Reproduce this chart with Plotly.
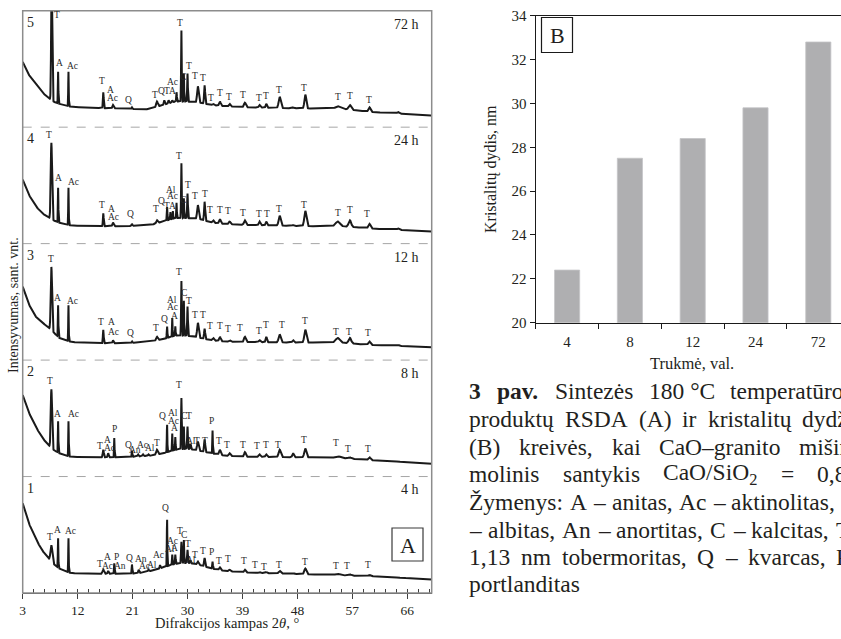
import numpy as np
import plotly.graph_objects as go

W, H = 841, 639
FONT = "Liberation Serif"
INK = "#231f20"

# ---------------- Panel A: XRD patterns ----------------
durations = ["4 h", "8 h", "12 h", "24 h", "72 h"]
curve_numbers = ["1", "2", "3", "4", "5"]
tick_angles = [3, 12, 21, 30, 39, 48, 57, 66]

# background anchors: (2theta, relative intensity inside its band)
bg_4h = [(3, 0.77), (3.5, 0.68), (4, 0.60), (5, 0.48), (6, 0.38), (7, 0.31), (8, 0.25), (9, 0.21),
         (10, 0.185), (11, 0.17), (14, 0.165), (20, 0.165), (22, 0.17), (24, 0.19), (26, 0.22),
         (28, 0.25), (30, 0.26), (32, 0.24), (34, 0.21), (36, 0.19), (40, 0.175), (50, 0.16),
         (60, 0.145), (70, 0.115)]
bg_8h = [(3, 0.70), (3.5, 0.62), (4, 0.55), (5, 0.44), (6, 0.35), (7, 0.28), (8, 0.23), (9, 0.20),
         (10, 0.18), (11, 0.17), (14, 0.165), (20, 0.165), (24, 0.18), (26, 0.20), (28, 0.23),
         (30, 0.24), (32, 0.22), (34, 0.20), (36, 0.18), (40, 0.17), (50, 0.165), (55, 0.16),
         (60, 0.14), (70, 0.11)]
bg_12h = [(3, 0.63), (3.5, 0.55), (4, 0.48), (5, 0.38), (6, 0.33), (7, 0.29), (8, 0.24), (9, 0.19),
          (10, 0.17), (11, 0.155), (14, 0.145), (20, 0.145), (24, 0.16), (26, 0.18), (28, 0.21),
          (30, 0.21), (32, 0.19), (34, 0.17), (36, 0.16), (40, 0.155), (50, 0.15), (55, 0.15),
          (60, 0.13), (70, 0.11)]
bg_24h = [(3, 0.55), (3.5, 0.48), (4, 0.42), (5, 0.33), (6, 0.27), (7, 0.23), (8, 0.20), (9, 0.18),
          (10, 0.165), (11, 0.155), (14, 0.15), (20, 0.15), (24, 0.16), (26, 0.19), (28, 0.22),
          (30, 0.22), (32, 0.21), (34, 0.18), (36, 0.17), (40, 0.16), (50, 0.15), (55, 0.15),
          (60, 0.13), (70, 0.105)]
bg_72h = [(3, 0.56), (3.5, 0.50), (4, 0.45), (5, 0.38), (6, 0.31), (7, 0.26), (8, 0.22), (9, 0.20),
          (10, 0.185), (11, 0.175), (14, 0.165), (20, 0.16), (23, 0.15), (24, 0.16), (26, 0.19),
          (28, 0.22), (30, 0.22), (32, 0.21), (34, 0.19), (36, 0.18), (40, 0.17), (50, 0.16),
          (55, 0.16), (60, 0.13), (70, 0.10)]

# peaks: (2theta, top level inside band, FWHM in degrees)
peaks_4h = [(7.7, 0.41, 0.35), (8.8, 0.47, 0.10), (10.5, 0.47, 0.10), (16.2, 0.20, 0.3), (17.0, 0.19, 0.2),
            (18.0, 0.255, 0.12), (20.9, 0.245, 0.12), (22.0, 0.20, 0.2), (23.6, 0.20, 0.2),
            (25.5, 0.24, 0.15), (26.65, 0.64, 0.10), (27.5, 0.33, 0.12), (28.0, 0.33, 0.12),
            (29.0, 0.44, 0.15), (29.4, 0.455, 0.12), (30.0, 0.37, 0.15), (30.5, 0.28, 0.15),
            (31.7, 0.27, 0.3), (32.8, 0.30, 0.2), (34.1, 0.27, 0.12), (35.3, 0.22, 0.3),
            (36.9, 0.20, 0.3), (39.4, 0.20, 0.3), (41.8, 0.18, 0.3), (42.9, 0.18, 0.3),
            (45.1, 0.19, 0.4), (47.3, 0.17, 0.3), (49.3, 0.21, 0.4), (54.6, 0.165, 0.8),
            (56.6, 0.16, 0.5), (59.8, 0.155, 0.4), (64.5, 0.135, 0.4)]
peaks_8h = [(7.7, 0.75, 0.25), (8.8, 0.475, 0.10), (10.5, 0.475, 0.10), (16.2, 0.23, 0.2), (17.0, 0.20, 0.2),
            (18.0, 0.33, 0.10), (20.9, 0.22, 0.12), (21.9, 0.19, 0.2), (22.7, 0.19, 0.2),
            (23.6, 0.19, 0.2), (25.0, 0.23, 0.3), (26.65, 0.45, 0.10), (27.5, 0.37, 0.10),
            (28.0, 0.34, 0.10), (29.0, 0.675, 0.13), (29.4, 0.43, 0.10), (30.0, 0.43, 0.13),
            (30.5, 0.28, 0.15), (31.7, 0.30, 0.3), (32.8, 0.32, 0.2), (34.1, 0.395, 0.10),
            (35.3, 0.23, 0.3), (36.9, 0.20, 0.3), (39.4, 0.21, 0.3), (41.8, 0.19, 0.3),
            (42.9, 0.19, 0.3), (45.1, 0.23, 0.4), (47.3, 0.20, 0.3), (49.3, 0.24, 0.4),
            (54.6, 0.175, 0.9), (56.6, 0.165, 0.5), (59.8, 0.165, 0.4), (64.5, 0.13, 0.4)]
peaks_12h = [(7.7, 0.80, 0.25), (8.8, 0.47, 0.10), (10.5, 0.47, 0.10), (16.2, 0.26, 0.15),
             (17.8, 0.17, 0.2), (20.9, 0.16, 0.15), (25.0, 0.20, 0.3), (26.65, 0.29, 0.12),
             (27.5, 0.36, 0.10), (28.0, 0.29, 0.10), (29.0, 0.68, 0.13), (29.4, 0.51, 0.10),
             (30.0, 0.46, 0.13), (31.7, 0.32, 0.3), (32.8, 0.27, 0.2), (34.2, 0.19, 0.3),
             (35.3, 0.20, 0.3), (36.9, 0.17, 0.3), (39.4, 0.20, 0.35), (41.8, 0.17, 0.3),
             (42.9, 0.20, 0.25), (45.1, 0.22, 0.4), (47.3, 0.17, 0.3), (49.3, 0.26, 0.4),
             (54.6, 0.19, 0.8), (56.6, 0.19, 0.5), (59.8, 0.16, 0.4), (64.5, 0.13, 0.4)]
peaks_24h = [(7.7, 0.865, 0.25), (8.8, 0.48, 0.10), (10.5, 0.48, 0.10), (16.2, 0.26, 0.15),
             (17.8, 0.18, 0.25), (20.9, 0.17, 0.15), (25.0, 0.20, 0.3), (26.65, 0.315, 0.12),
             (27.2, 0.27, 0.12), (27.6, 0.28, 0.10), (28.2, 0.35, 0.10), (29.0, 0.69, 0.13),
             (29.4, 0.39, 0.10), (30.0, 0.43, 0.13), (31.7, 0.33, 0.3), (32.8, 0.36, 0.2),
             (34.2, 0.20, 0.3), (35.3, 0.21, 0.3), (36.9, 0.19, 0.3), (39.4, 0.20, 0.35),
             (41.8, 0.19, 0.3), (42.9, 0.19, 0.25), (45.1, 0.24, 0.4), (47.3, 0.16, 0.3),
             (49.3, 0.28, 0.4), (54.6, 0.19, 0.8), (56.6, 0.20, 0.5), (59.8, 0.17, 0.4), (64.5, 0.13, 0.4)]
peaks_72h = [(7.75, 1.35, 0.2), (8.8, 0.475, 0.10), (10.5, 0.475, 0.10), (16.2, 0.30, 0.15),
             (17.8, 0.19, 0.25), (20.9, 0.17, 0.15), (25.0, 0.22, 0.3), (26.2, 0.23, 0.2),
             (26.9, 0.23, 0.2), (27.5, 0.23, 0.15), (28.2, 0.30, 0.12), (29.0, 0.83, 0.12),
             (29.4, 0.46, 0.10), (30.0, 0.46, 0.12), (31.7, 0.35, 0.3), (32.8, 0.36, 0.2),
             (34.2, 0.20, 0.3), (35.3, 0.22, 0.3), (36.9, 0.20, 0.3), (39.4, 0.21, 0.35),
             (41.8, 0.19, 0.3), (42.9, 0.20, 0.25), (45.1, 0.26, 0.4), (47.3, 0.17, 0.3),
             (49.3, 0.28, 0.35), (54.6, 0.18, 0.8), (56.6, 0.19, 0.5), (59.8, 0.17, 0.4), (64.5, 0.13, 0.4)]

# phase labels: (2theta, level inside band, text)
labels_4h = [(7.4, 0.478, "T"), (8.7, 0.541, "A"), (10.9, 0.533, "Ac"), (15.7, 0.249, "T"),
             (16.9, 0.306, "A"), (16.9, 0.235, "Ac"), (18.3, 0.306, "P"), (19.0, 0.232, "An"),
             (20.5, 0.30, "Q"), (22.3, 0.289, "An"), (22.9, 0.232, "Ac"), (24.2, 0.24, "Al"),
             (25.3, 0.326, "Ac"), (26.4, 0.727, "Q"), (27.6, 0.45, "Ac"), (27.2, 0.375, "Al"),
             (27.9, 0.383, "A"), (28.7, 0.535, "T"), (29.5, 0.498, "C"), (30.0, 0.42, "T"),
             (30.6, 0.283, "Al"), (31.3, 0.326, "T"), (32.6, 0.361, "T"), (34.0, 0.355, "P"),
             (35.2, 0.275, "T"), (36.6, 0.292, "T"), (39.2, 0.275, "T"), (41.1, 0.24, "T"),
             (42.6, 0.22, "T"), (45.0, 0.24, "T"), (49.3, 0.263, "T"), (54.4, 0.235, "T"),
             (56.2, 0.235, "T"), (59.6, 0.24, "T")]
labels_8h = [(7.5, 0.819, "T"), (8.7, 0.533, "A"), (11.3, 0.533, "Ac"), (15.6, 0.266, "T"),
             (16.9, 0.318, "A"), (17.3, 0.246, "Ac"), (18.1, 0.404, "P"), (20.4, 0.275, "Q"),
             (21.4, 0.232, "An"), (22.6, 0.275, "Ac"), (23.9, 0.246, "Al"), (25.0, 0.284, "T"),
             (25.9, 0.518, "Q"), (27.7, 0.547, "Al"), (27.7, 0.481, "Ac"), (27.8, 0.418, "A"),
             (28.6, 0.782, "T"), (29.4, 0.518, "C"), (30.3, 0.518, "T"), (30.5, 0.309, "Al"),
             (31.6, 0.309, "T"), (32.8, 0.309, "T"), (34.0, 0.481, "P"), (35.2, 0.309, "T"),
             (36.4, 0.275, "T"), (39.1, 0.275, "T"), (41.3, 0.266, "T"), (42.8, 0.275, "T"),
             (44.9, 0.275, "T"), (49.1, 0.318, "T"), (54.4, 0.289, "T"), (56.3, 0.237, "T"),
             (59.6, 0.237, "T")]
labels_12h = [(7.6, 0.865, "T"), (8.7, 0.53, "A"), (11.2, 0.507, "Ac"), (15.9, 0.33, "T"),
              (17.6, 0.33, "A"), (17.8, 0.243, "Ac"), (20.7, 0.235, "Q"), (24.9, 0.278, "T"),
              (26.2, 0.352, "Q"), (27.5, 0.52, "Al"), (27.5, 0.458, "Ac"), (27.8, 0.378, "A"),
              (28.6, 0.759, "T"), (29.4, 0.578, "C"), (30.3, 0.507, "T"), (31.3, 0.387, "T"),
              (32.6, 0.387, "T"), (33.7, 0.292, "T"), (35.3, 0.292, "T"), (36.6, 0.264, "T"),
              (38.6, 0.272, "T"), (41.7, 0.249, "T"), (42.9, 0.30, "T"), (45.4, 0.30, "T"),
              (49.3, 0.335, "T"), (54.4, 0.243, "T"), (56.4, 0.243, "T"), (59.6, 0.235, "T")]
labels_24h = [(7.35, 0.936, "T"), (8.8, 0.564, "A"), (11.4, 0.527, "Ac"), (16.0, 0.335, "T"),
              (17.6, 0.298, "A"), (17.8, 0.228, "Ac"), (20.7, 0.257, "Q"), (24.8, 0.298, "T"),
              (25.8, 0.369, "Q"), (26.7, 0.326, "T"), (27.6, 0.326, "A"), (27.3, 0.464, "Al"),
              (27.5, 0.412, "Ac"), (29.2, 0.378, "C"), (28.6, 0.756, "T"), (30.0, 0.507, "T"),
              (31.3, 0.412, "T"), (32.8, 0.43, "T"), (33.7, 0.286, "T"), (35.3, 0.29, "T"),
              (36.6, 0.277, "T"), (39.1, 0.263, "T"), (41.7, 0.257, "T"), (43.0, 0.257, "T"),
              (45.0, 0.298, "T"), (49.1, 0.335, "T"), (54.7, 0.263, "T"), (56.6, 0.286, "T"),
              (59.4, 0.25, "T")]
labels_72h = [(8.56, 0.96, "T"), (9.0, 0.547, "A"), (11.2, 0.524, "Ac"), (16.0, 0.40, "T"),
              (17.45, 0.322, "A"), (17.7, 0.254, "Ac"), (20.4, 0.23, "Q"), (24.65, 0.28, "T"),
              (25.7, 0.31, "Q"), (26.7, 0.31, "T"), (27.6, 0.31, "A"), (27.6, 0.39, "Ac"),
              (29.2, 0.427, "C"), (30.3, 0.524, "T"), (28.8, 0.896, "T"), (31.3, 0.437, "T"),
              (32.6, 0.42, "T"), (33.8, 0.254, "T"), (35.3, 0.295, "T"), (36.8, 0.26, "T"),
              (39.1, 0.28, "T"), (41.7, 0.254, "T"), (42.9, 0.265, "T"), (45.0, 0.317, "T"),
              (49.1, 0.34, "T"), (54.7, 0.26, "T"), (56.6, 0.265, "T"), (59.7, 0.23, "T")]

backgrounds = [bg_4h, bg_8h, bg_12h, bg_24h, bg_72h]
peak_tables = [peaks_4h, peaks_8h, peaks_12h, peaks_24h, peaks_72h]
label_tables = [labels_4h, labels_8h, labels_12h, labels_24h, labels_72h]

# ---------------- Panel B: crystallite size ----------------
bar_categories = ["4", "8", "12", "24", "72"]
crystallite_size_nm = [22.4, 27.5, 28.4, 29.8, 32.8]

# ---------------- Caption text (justified lines) ----------------
caption_words = [
    ["<b>3</b>", "<b>pav.</b>", "Sintezės", "180 °C", "temperatūros"],
    ["produktų", "RSDA", "(A)", "ir", "kristalitų", "dydžio"],
    ["(B)", "kreivės,", "kai", "CaO–granito", "mišinio"],
    ["molinis", "santykis", "CaO/SiO<sub>2</sub>", "=", "0,83."],
    ["Žymenys:", "A", "–", "anitas,", "Ac", "–", "aktinolitas,"],
    ["–", "albitas,", "An", "–", "anortitas,", "C", "–", "kalcitas,", "T"],
    ["1,13", "nm", "tobermoritas,", "Q", "–", "kvarcas,", "P"],
    ["portlanditas"],
]

# ---------------- helpers ----------------
grid = np.arange(3.0, 70.0001, 0.02)


def build_pattern(bg, peaks):
    bx = np.array([p[0] for p in bg])
    by = np.array([p[1] for p in bg])
    base = np.interp(grid, bx, by)
    pos = np.array([p[0] for p in peaks])
    top = np.array([p[1] for p in peaks])
    sig = np.array([p[2] for p in peaks]) / 2.3548
    Gp = np.exp(-0.5 * ((pos[:, None] - pos[None, :]) / sig[None, :]) ** 2)
    target = top - np.interp(pos, bx, by)
    amp = np.clip(np.linalg.solve(Gp, target), 0, None)
    G = np.exp(-0.5 * ((grid[:, None] - pos[None, :]) / sig[None, :]) ** 2)
    return base + G @ amp


def px_x(p):
    return p / W


def px_y(p):
    return 1 - p / H


# approximate Times advance widths (per 1000 em) for justifying the caption
_TW = dict(zip("abcdefghijklmnopqrstuvwxyz",
               [444, 500, 444, 500, 444, 333, 500, 500, 278, 278, 500, 278, 778, 500, 500, 500, 500,
                333, 389, 278, 500, 500, 722, 500, 500, 444]))
_TW.update(dict(zip("ABCDEFGHIJKLMNOPQRSTUVWXYZ",
                    [722, 667, 667, 722, 611, 556, 722, 722, 333, 389, 722, 611, 889, 722, 722, 556, 722,
                     667, 556, 611, 722, 722, 944, 722, 722, 611])))
_TW.update({c: 500 for c in "0123456789"})
_TW.update({" ": 250, ",": 250, ".": 250, ":": 278, "(": 333, ")": 333, "/": 278, "=": 564, "–": 500,
            "°": 400, "ė": 444, "ų": 500, "ū": 500, "ž": 444, "š": 389, "Ž": 611})


def word_width(w, size):
    bold = "<b>" in w
    plain = w.replace("<b>", "").replace("</b>", "")
    total = 0.0
    i = 0
    while i < len(plain):
        if plain.startswith("<sub>", i):
            j = plain.index("</sub>", i)
            total += 0.7 * sum(_TW.get(c, 500) for c in plain[i + 5:j])
            i = j + 6
            continue
        total += _TW.get(plain[i], 500) * (1.08 if bold else 1.0)
        i += 1
    return total * size / 1000.0


fig = go.Figure()
annotations = []
shapes = []

for i, (bg, pk, lb) in enumerate(zip(backgrounds, peak_tables, label_tables)):
    y = i + build_pattern(bg, pk)
    fig.add_trace(go.Scatter(x=grid, y=y, mode="lines", line=dict(color="#1a1a1a", width=2),
                             xaxis="x", yaxis="y", hoverinfo="skip", showlegend=False))
    for (ang, lev, txt) in lb:
        annotations.append(dict(x=ang, y=i + lev, xref="x", yref="y", text=txt, showarrow=False,
                                font=dict(family=FONT, size=9.5, color="#2b2b2b"),
                                xanchor="center", yanchor="middle"))
    annotations.append(dict(x=3.35, y=i + 0.9, xref="x", yref="y", text=curve_numbers[i], showarrow=False,
                            font=dict(family=FONT, size=14, color=INK), xanchor="left", yanchor="middle"))
    annotations.append(dict(x=68.3, y=i + 0.885, xref="x", yref="y", text=durations[i], showarrow=False,
                            font=dict(family=FONT, size=14, color=INK), xanchor="right", yanchor="middle"))
    if i > 0:
        shapes.append(dict(type="line", xref="x domain", yref="y", x0=0, x1=1, y0=i, y1=i,
                           line=dict(color="#a6a6a6", width=1, dash="dash")))

# frame of panel A
shapes.append(dict(type="rect", xref="x domain", yref="y domain", x0=0, x1=1, y0=0, y1=1,
                   line=dict(color="#8c8c8c", width=1.5)))
# box "A"
shapes.append(dict(type="rect", xref="paper", yref="paper", x0=px_x(392), x1=px_x(423),
                   y0=px_y(561), y1=px_y(528), line=dict(color="#3a3a3a", width=1.2)))
annotations.append(dict(x=px_x(407.5), y=px_y(545), xref="paper", yref="paper", text="A", showarrow=False,
                        font=dict(family=FONT, size=22, color=INK), xanchor="center", yanchor="middle"))

# panel B bars
fig.add_trace(go.Bar(x=list(range(len(bar_categories))), y=crystallite_size_nm, width=0.4,
                     marker=dict(color="#afafb1", line=dict(color="#c4c4c6", width=0.8)),
                     xaxis="x2", yaxis="y2", hoverinfo="skip", showlegend=False))

shapes.append(dict(type="rect", xref="paper", yref="paper", x0=px_x(541.5), x1=px_x(572.5),
                   y0=px_y(52.5), y1=px_y(17.5), line=dict(color="#1a1a1a", width=1.2)))
annotations.append(dict(x=px_x(557), y=px_y(35), xref="paper", yref="paper", text="B", showarrow=False,
                        font=dict(family=FONT, size=22, color=INK), xanchor="center", yanchor="middle"))

# axis titles
annotations.append(dict(x=px_x(227), y=px_y(623), xref="paper", yref="paper",
                        text="Difrakcijos kampas 2<i>θ</i>, °", showarrow=False,
                        font=dict(family=FONT, size=14.5, color=INK), xanchor="center", yanchor="middle"))
annotations.append(dict(x=px_x(13), y=px_y(305), xref="paper", yref="paper",
                        text="Intensyvumas, sant. vnt.", textangle=-90, showarrow=False,
                        font=dict(family=FONT, size=14, color=INK), xanchor="center", yanchor="middle"))
annotations.append(dict(x=px_x(491), y=px_y(169), xref="paper", yref="paper",
                        text="Kristalitų dydis, nm", textangle=-90, showarrow=False,
                        font=dict(family=FONT, size=16, color=INK), xanchor="center", yanchor="middle"))
annotations.append(dict(x=px_x(692), y=px_y(363), xref="paper", yref="paper",
                        text="Trukmė, val.", showarrow=False,
                        font=dict(family=FONT, size=16.5, color=INK), xanchor="center", yanchor="middle"))

# caption: each line justified between the left edge and where its last word starts
CAP_SIZE = 23.5
cap_left = 467.3
cap_line_y = [391, 419, 446.5, 473.5, 502, 529.5, 557, 584]
cap_last_start = [728, 800, 797, 815, None, 834, 834, None]
cap_line_end = [None, None, None, None, 833, None, None, None]
for words, ly, last, lend in zip(caption_words, cap_line_y, cap_last_start, cap_line_end):
    widths = [word_width(w, CAP_SIZE) for w in words]
    if len(words) == 1:
        xs = [cap_left]
    else:
        if last is not None:
            gap = (last - cap_left - sum(widths[:-1])) / (len(words) - 1)
        else:
            gap = (lend - cap_left - sum(widths)) / (len(words) - 1)
        xs, x = [], cap_left
        for wdt in widths:
            xs.append(x)
            x += wdt + gap
    for wtxt, wx in zip(words, xs):
        annotations.append(dict(x=px_x(wx), y=px_y(ly), xref="paper", yref="paper", text=wtxt,
                                showarrow=False, font=dict(family=FONT, size=CAP_SIZE, color=INK),
                                xanchor="left", yanchor="middle"))

fig.update_layout(
    width=W, height=H, margin=dict(l=0, r=0, t=0, b=0),
    paper_bgcolor="white", plot_bgcolor="white", showlegend=False,
    font=dict(family=FONT, color=INK),
    xaxis=dict(domain=[px_x(22.7), px_x(431.7)], range=[3, 70], tickvals=tick_angles,
               ticktext=[str(t) for t in tick_angles], ticks="outside", ticklen=5, tickwidth=1,
               tickcolor="#404040",
               minor=dict(ticks="inside", ticklen=4, dtick=1.8, tick0=3, tickcolor="#404040", showgrid=False),
               showline=True, linecolor="#404040", linewidth=1.2, showgrid=False, zeroline=False,
               tickfont=dict(family=FONT, size=13.5, color=INK), anchor="y", automargin=False),
    yaxis=dict(domain=[px_y(593), px_y(10.7)], range=[0, 5], showticklabels=False, ticks="",
               showgrid=False, zeroline=False, showline=False, anchor="x", automargin=False),
    xaxis2=dict(domain=[px_x(535.7), 1.0], range=[-0.5, -0.5 + (841 - 535.7) / 62.8],
                tickvals=list(range(len(bar_categories))), ticktext=bar_categories,
                ticks="outside", ticklen=5, tickcolor="rgba(0,0,0,0)",
                minor=dict(ticks="outside", ticklen=5, tick0=-0.5, dtick=1, tickcolor="#1a1a1a", showgrid=False),
                showline=True, linecolor="#1a1a1a", linewidth=1.2, mirror=True,
                showgrid=False, zeroline=False, tickfont=dict(family=FONT, size=15, color=INK),
                anchor="y2", automargin=False),
    yaxis2=dict(domain=[px_y(322.7), px_y(15.7)], range=[20, 34], dtick=2, tick0=20,
                ticks="outside", ticklen=5, tickcolor="#1a1a1a",
                showline=True, linecolor="#1a1a1a", linewidth=1.2, showgrid=False, zeroline=False,
                tickfont=dict(family=FONT, size=15, color=INK), anchor="x2", automargin=False),
    annotations=annotations,
    shapes=shapes,
)

fig.write_html("out.html")
